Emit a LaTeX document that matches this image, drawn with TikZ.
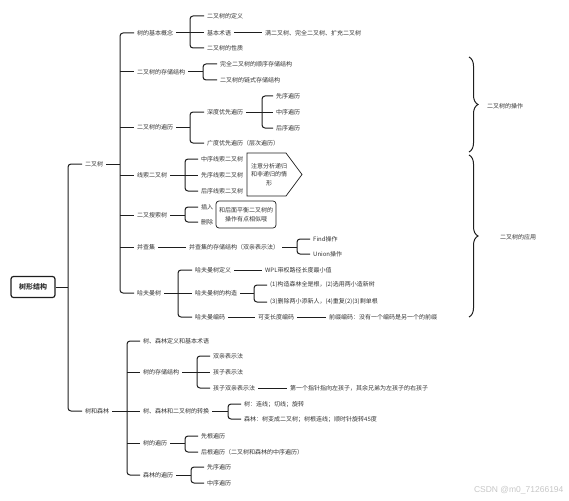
\documentclass[tikz,border=0pt]{standalone}
\usepackage{fontspec}
\newfontfamily\cjk{Noto Sans CJK SC}
\newfontfamily\wm{Liberation Sans}
\usetikzlibrary{decorations.pathreplacing}
\definecolor{txt}{HTML}{333333}
\definecolor{lin}{HTML}{1E1E1E}
\tikzset{
  t/.style={anchor=west,inner xsep=3pt,inner ysep=1pt,font=\cjk\fontsize{6}{8.7}\selectfont,text=txt},
  ln/.style={draw=lin,line width=1pt,rounded corners=3pt},
  brc/.style={draw=lin,line width=1pt,decorate,decoration={brace,amplitude=9pt}},
}
\begin{document}
\begin{tikzpicture}[x=1pt,y=-1pt]
      \useasboundingbox (0,0) rectangle (569,500);
      % root
      \node[draw=lin,line width=1.2pt,rounded corners=2.5pt,minimum width=44pt,minimum height=21pt,
            font=\cjk\bfseries\fontsize{7}{8}\selectfont,text=txt] (root) at (33,287) {树形结构};
      \node[t] (bt) at (82,164) {二叉树};
      \node[t] (fo) at (82,411) {树和森林};
      \coordinate (k0) at (68,287);
      \draw[ln] (root.east) -- (k0);
      \draw[ln] (bt.west) -| (k0) |- (fo.west);

      % 二叉树
      \node[t] (b1) at (134,33) {树的基本概念};
      \node[t] (b2) at (134,72) {二叉树的存储结构};
      \node[t] (b3) at (134,127) {二叉树的遍历};
      \node[t] (b4) at (134,175) {线索二叉树};
      \node[t] (b5) at (134,215) {二叉搜索树};
      \node[t] (b6) at (134,247) {并查集};
      \node[t] (b7) at (134,293) {哈夫曼树};
      \coordinate (k1) at (120,164);
      \draw[ln] (bt.east) -- (k1);
      \draw[ln] (b1.west) -| (k1) |- (b7.west);
      \foreach \n in {b2,b3,b4,b5,b6} \draw[ln] (k1 |- \n.west) -- (\n.west);

      % 树的基本概念
      \node[t] (b11) at (204,16) {二叉树的定义};
      \node[t] (b12) at (204,33) {基本术语};
      \node[t] (b13) at (204,48) {二叉树的性质};
      \node[t] (b121) at (262,33) {满二叉树、完全二叉树、扩充二叉树};
      \coordinate (k11) at (190,33);
      \draw[ln] (b1.east) -- (k11);
      \draw[ln] (b11.west) -| (k11) |- (b13.west);
      \draw[ln] (k11) -- (b12.west);
      \draw[ln] (b12.east) -- (b121.west);

      % 存储结构
      \node[t] (b21) at (217,64) {完全二叉树的顺序存储结构};
      \node[t] (b22) at (217,80) {二叉树的链式存储结构};
      \coordinate (k12) at (203,72);
      \draw[ln] (b2.east) -- (k12);
      \draw[ln] (b21.west) -| (k12) |- (b22.west);

      % 遍历
      \node[t] (b31) at (204,112) {深度优先遍历};
      \node[t] (b32) at (204,143) {广度优先遍历（层次遍历）};
      \coordinate (k13) at (190,127);
      \draw[ln] (b3.east) -- (k13);
      \draw[ln] (b31.west) -| (k13) |- (b32.west);
      \node[t] (b311) at (273,96) {先序遍历};
      \node[t] (b312) at (273,112) {中序遍历};
      \node[t] (b313) at (273,128) {后序遍历};
      \coordinate (k131) at (262,112);
      \draw[ln] (b31.east) -- (k131);
      \draw[ln] (b311.west) -| (k131) |- (b313.west);
      \draw[ln] (k131) -- (b312.west);

      % 线索二叉树
      \node[t] (b41) at (198,159) {中序线索二叉树};
      \node[t] (b42) at (198,175) {先序线索二叉树};
      \node[t] (b43) at (198,191) {后序线索二叉树};
      \coordinate (k14) at (185,175);
      \draw[ln] (b4.east) -- (k14);
      \draw[ln] (b41.west) -| (k14) |- (b43.west);
      \draw[ln] (k14) -- (b42.west);
      \node[t,anchor=center,align=center] (note) at (269,174.5) {注意分析递归\\和非递归的情\\形};
      \draw[draw=lin,line width=0.7pt] (247,153) -- (286,153) -- (302,174.5) -- (286,196) -- (247,196) -- cycle;

      % 二叉搜索树
      \node[t] (b51) at (198,207) {插入};
      \node[t] (b52) at (198,222) {删除};
      \coordinate (k15) at (185,215);
      \draw[ln] (b5.east) -- (k15);
      \draw[ln] (b51.west) -| (k15) |- (b52.west);
      \node[t,anchor=center,align=center,draw=lin,line width=0.7pt,rounded corners=3pt,
            minimum width=60pt,minimum height=27pt] (hint) at (246,214.5) {和后面平衡二叉树的\\操作有点相似哦};

      % 并查集
      \node[t] (b61) at (186,247) {并查集的存储结构（双亲表示法）};
      \draw[ln] (b6.east) -- (b61.west);
      \node[t] (b611) at (310,239) {Find操作};
      \node[t] (b612) at (310,254) {Union操作};
      \coordinate (k16) at (297,247);
      \draw[ln] (b61.east) -- (k16);
      \draw[ln] (b611.west) -| (k16) |- (b612.west);

      % 哈夫曼树
      \node[t] (b71) at (192,270) {哈夫曼树定义};
      \node[t] (b72) at (192,293) {哈夫曼树的构造};
      \node[t] (b73) at (192,317) {哈夫曼编码};
      \coordinate (k17) at (178,293);
      \draw[ln] (b7.east) -- (k17);
      \draw[ln] (b71.west) -| (k17) |- (b73.west);
      \draw[ln] (k17) -- (b72.west);
      \node[t] (b711) at (262,270) {WPL带权路径长度最小值};
      \draw[ln] (b71.east) -- (b711.west);
      \node[t] (b721) at (267,285) {(1)构造森林全是根，(2)选用两小造新树};
      \node[t] (b722) at (267,302) {(3)删除两小添新人，(4)重复(2)(3)剩单根};
      \coordinate (k172) at (254,293);
      \draw[ln] (b72.east) -- (k172);
      \draw[ln] (b721.west) -| (k172) |- (b722.west);
      \node[t] (b731) at (255,317) {可变长度编码};
      \node[t] (b732) at (326,317) {前缀编码：没有一个编码是另一个的前缀};
      \draw[ln] (b73.east) -- (b731.west);
      \draw[ln] (b731.east) -- (b732.west);

      % 树和森林
      \node[t] (f1) at (140,341) {树、森林定义和基本术语};
      \node[t] (f2) at (140,372) {树的存储结构};
      \node[t] (f3) at (140,411) {树、森林和二叉树的转换};
      \node[t] (f4) at (140,443) {树的遍历};
      \node[t] (f5) at (140,475) {森林的遍历};
      \coordinate (k2) at (127,411);
      \draw[ln] (fo.east) -- (k2);
      \draw[ln] (f1.west) -| (k2) |- (f5.west);
      \foreach \n in {f2,f3,f4} \draw[ln] (k2 |- \n.west) -- (\n.west);

      \node[t] (f21) at (210,356) {双亲表示法};
      \node[t] (f22) at (210,372) {孩子表示法};
      \node[t] (f23) at (210,388) {孩子双亲表示法};
      \coordinate (k22) at (197,372);
      \draw[ln] (f2.east) -- (k22);
      \draw[ln] (f21.west) -| (k22) |- (f23.west);
      \draw[ln] (k22) -- (f22.west);
      \node[t] (f231) at (287,388) {第一个指针指向左孩子，其余兄弟为左孩子的右孩子};
      \draw[ln] (f23.east) -- (f231.west);

      \node[t] (f31) at (241,404) {树：连线；切线；旋转};
      \node[t] (f32) at (241,419) {森林：树变成二叉树；树根连线；顺时针旋转45度};
      \coordinate (k23) at (228,411);
      \draw[ln] (f3.east) -- (k23);
      \draw[ln] (f31.west) -| (k23) |- (f32.west);

      \node[t] (f41) at (198,436) {先根遍历};
      \node[t] (f42) at (198,452) {后根遍历（二叉树和森林的中序遍历）};
      \coordinate (k24) at (185,443);
      \draw[ln] (f4.east) -- (k24);
      \draw[ln] (f41.west) -| (k24) |- (f42.west);

      \node[t] (f51) at (204,467) {先序遍历};
      \node[t] (f52) at (204,483) {中序遍历};
      \coordinate (k25) at (191,475);
      \draw[ln] (f5.east) -- (k25);
      \draw[ln] (f51.west) -| (k25) |- (f52.west);

      % braces
      \draw[brc] (469,57) -- (469,152);
      \node[t] (op) at (484,106) {二叉树的操作};
      \draw[brc] (469,155) -- (469,317);
      \node[t] (ap) at (497,237) {二叉树的应用};

      \node[anchor=east,font=\wm\fontsize{8.5}{9}\selectfont,text=black!22] (mark) at (567,490) {CSDN @m0\_71266194};
\end{tikzpicture}
\end{document}
